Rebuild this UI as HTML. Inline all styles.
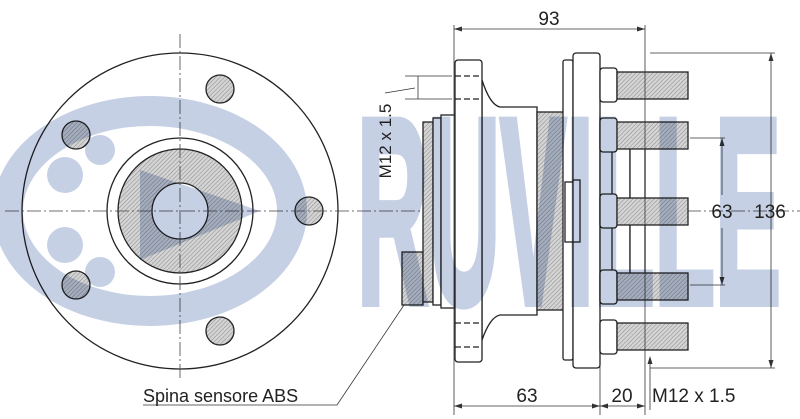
<!DOCTYPE html>
<html><head><meta charset="utf-8"><style>
html,body{margin:0;padding:0;background:#fff;}
svg{display:block;font-family:"Liberation Sans",sans-serif;}
.wm{mix-blend-mode:multiply;}
</style></head><body>
<svg width="800" height="419" viewBox="0 0 800 419" xmlns="http://www.w3.org/2000/svg">
<defs>
<pattern id="h" width="3" height="3" patternUnits="userSpaceOnUse" patternTransform="rotate(45)">
<rect width="3" height="3" fill="#d4d4d4"/><line x1="0" y1="0" x2="0" y2="3" stroke="#777" stroke-width="0.8"/>
</pattern>
</defs>
<rect width="800" height="419" fill="#fff"/>
<g stroke="#222" fill="none" stroke-width="1.3">
<circle cx="180" cy="211" r="158" fill="#fff"/>
<circle cx="180" cy="211" r="73"/>
<circle cx="180" cy="211" r="62" fill="url(#h)"/>
<circle cx="180" cy="211" r="28" fill="#fff"/>
<g fill="url(#h)">
<circle cx="220" cy="89" r="14"/><circle cx="76" cy="135" r="14"/><circle cx="309" cy="211" r="14"/><circle cx="76" cy="285" r="14"/><circle cx="220" cy="331" r="14"/>
</g>
</g>
<g stroke="#444" stroke-width="0.8" stroke-dasharray="14,3,2,3">
<line x1="180" y1="34" x2="180" y2="380"/>
<line x1="5" y1="211" x2="800" y2="211"/>
</g>
<g stroke="#222" stroke-width="1.3">
<rect x="402" y="252" width="21" height="53" fill="url(#h)"/>
<rect x="423" y="122" width="10" height="180" fill="url(#h)"/>
<rect x="433" y="118" width="8" height="187" fill="#fff"/>
<rect x="441" y="115" width="14" height="193" fill="#fff"/>
<path d="M482 80 Q490 105 500 107 L537 107 L537 315 L500 315 Q490 317 482 340 Z" fill="#fff"/>
<rect x="537" y="112" width="30" height="198" fill="url(#h)"/>
<rect x="455" y="60" width="27" height="302" rx="3" fill="#fff"/>
<rect x="563" y="60" width="10" height="300" rx="2" fill="#fff"/>
<rect x="573" y="53" width="27" height="315" rx="3" fill="#fff"/>
<rect x="565" y="182" width="8" height="60" fill="#fff"/>
<rect x="573" y="180" width="7" height="62" fill="#fff"/>
<rect x="612" y="140" width="18" height="145" fill="#fff"/>
<rect x="630" y="138" width="15" height="148" fill="#fff"/>
<g fill="#fff">
<rect x="600" y="68" width="17" height="34" rx="3"/><rect x="600" y="118" width="17" height="34" rx="3"/><rect x="600" y="194" width="17" height="34" rx="3"/><rect x="600" y="270" width="17" height="34" rx="3"/><rect x="600" y="320" width="17" height="34" rx="3"/>
</g>
<g fill="url(#h)">
<rect x="617" y="72" width="71" height="27"/><rect x="617" y="122" width="71" height="27"/><rect x="617" y="198" width="71" height="27"/><rect x="617" y="273" width="71" height="27"/><rect x="617" y="323" width="71" height="27"/>
</g>
</g>
<g stroke="#222" stroke-width="1.3" stroke-dasharray="6,3">
<line x1="455" y1="76" x2="482" y2="76"/><line x1="455" y1="99" x2="482" y2="99"/>
<line x1="455" y1="323" x2="482" y2="323"/><line x1="455" y1="347" x2="482" y2="347"/>
</g>
<g stroke="#333" stroke-width="0.8" fill="none">
<line x1="454" y1="25" x2="454" y2="415"/>
<line x1="645" y1="25" x2="645" y2="415"/>
<line x1="454" y1="29" x2="645" y2="29"/>
<line x1="600" y1="365" x2="600" y2="415"/>
<line x1="454" y1="406" x2="645" y2="406"/>
<line x1="650" y1="53" x2="775" y2="53"/><line x1="650" y1="368" x2="775" y2="368"/>
<line x1="771" y1="53" x2="771" y2="368"/>
<line x1="690" y1="138" x2="725" y2="138"/><line x1="690" y1="285" x2="725" y2="285"/>
<line x1="722" y1="138" x2="722" y2="195"/><line x1="722" y1="228" x2="722" y2="285"/>
<line x1="650" y1="410" x2="650" y2="358"/>
<line x1="405" y1="76" x2="452" y2="76"/><line x1="405" y1="99" x2="452" y2="99"/>
<line x1="418" y1="76" x2="418" y2="99"/>
<polyline points="385,93 415,88"/>
<polyline points="143,405 337,405 404,305"/>
</g>
<g fill="#333">
<path d="M454 29 l8 -2.5 v5z"/><path d="M645 29 l-8 -2.5 v5z"/>
<path d="M454 406 l8 -2.5 v5z"/><path d="M600 406 l-8 -2.5 v5z"/><path d="M600 406 l8 -2.5 v5z"/><path d="M645 406 l-8 -2.5 v5z"/>
<path d="M771 53 l-2.5 8 h5z"/><path d="M771 368 l-2.5 -8 h5z"/>
<path d="M722 138 l-2.5 8 h5z"/><path d="M722 285 l-2.5 -8 h5z"/>
<path d="M650 356 l-2.5 8 h5z"/>
</g>
<!-- watermark overlay -->
<g class="wm" fill="#c6d0e4" stroke="none">
<ellipse cx="150" cy="211" rx="142" ry="100" fill="none" stroke="#c6d0e4" stroke-width="30"/>
<circle cx="65" cy="175" r="18"/><circle cx="65" cy="245" r="18"/><circle cx="100" cy="150" r="15"/><circle cx="100" cy="272" r="15"/>
<path d="M140 170 L260 211 L140 260 Z"/>
<text x="357" y="303" font-size="265" font-weight="bold" stroke="#c6d0e4" stroke-width="8" textLength="424" lengthAdjust="spacingAndGlyphs">RUVILLE</text>
</g>
<g fill="#222" font-size="19">
<text x="549" y="25" text-anchor="middle">93</text>
<text x="722" y="218" text-anchor="middle">63</text>
<text x="770" y="218" text-anchor="middle">136</text>
<text x="527" y="402" text-anchor="middle">63</text>
<text x="622" y="402" text-anchor="middle">20</text>
<text x="652" y="402">M12 x 1.5</text>
<text x="143" y="402" font-size="18">Spina sensore ABS</text>
<text transform="translate(391,141) rotate(-90)" text-anchor="middle" font-size="17">M12 x 1.5</text>
</g>
</svg>
</body></html>
